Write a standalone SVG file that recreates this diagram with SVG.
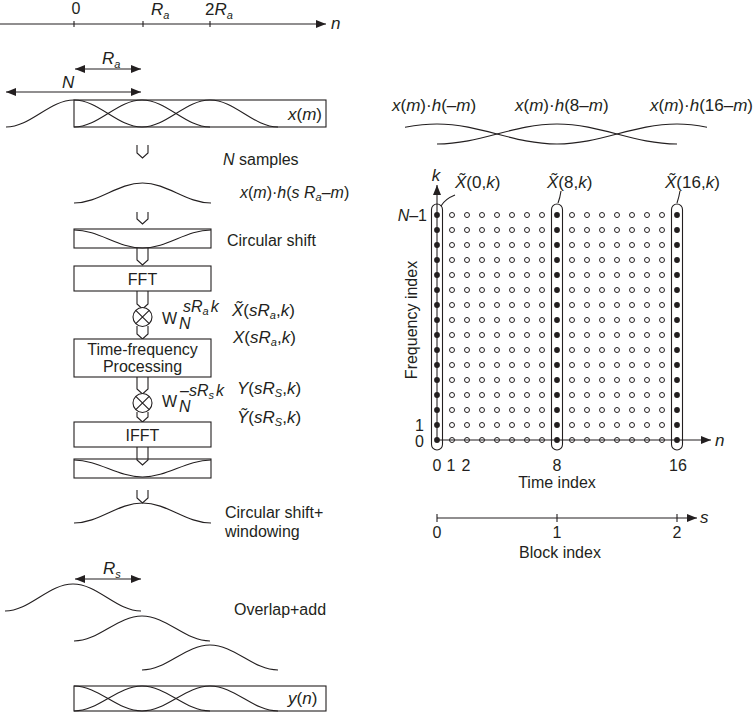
<svg xmlns="http://www.w3.org/2000/svg" xmlns:xlink="http://www.w3.org/1999/xlink" width="755" height="712" viewBox="0 0 755 712">
<style>
.ln{fill:none;stroke:#231f20;stroke-width:1.1}
.bx{fill:#fff;stroke:#231f20;stroke-width:1.1}
.t{font-family:"Liberation Sans",Arial,sans-serif;font-size:16px;fill:#231f20}
.m{font-size:17px}
.i{font-style:italic}
.sb{font-size:11px;font-style:italic}
.oc{fill:none;stroke:#231f20;stroke-width:1}
.fd{fill:#231f20}
</style>
<defs>
<marker id="ah" viewBox="0 0 10 8" refX="10" refY="4" markerWidth="10" markerHeight="8" markerUnits="userSpaceOnUse" orient="auto-start-reverse"><path d="M0,0 L10,4 L0,8 z" fill="#231f20"/></marker>
<g id="row">
<circle cx="437" cy="0" r="2.9" class="fd"/>
<circle cx="452" cy="0" r="2.5" class="oc"/><circle cx="467" cy="0" r="2.5" class="oc"/><circle cx="482" cy="0" r="2.5" class="oc"/><circle cx="497" cy="0" r="2.5" class="oc"/><circle cx="512" cy="0" r="2.5" class="oc"/><circle cx="527" cy="0" r="2.5" class="oc"/><circle cx="542" cy="0" r="2.5" class="oc"/>
<circle cx="557" cy="0" r="2.9" class="fd"/>
<circle cx="572" cy="0" r="2.5" class="oc"/><circle cx="587" cy="0" r="2.5" class="oc"/><circle cx="602" cy="0" r="2.5" class="oc"/><circle cx="617" cy="0" r="2.5" class="oc"/><circle cx="632" cy="0" r="2.5" class="oc"/><circle cx="647" cy="0" r="2.5" class="oc"/><circle cx="662" cy="0" r="2.5" class="oc"/>
<circle cx="677" cy="0" r="2.9" class="fd"/>
</g>
</defs>
<rect width="755" height="712" fill="#fff"/>

<!-- top time axis -->
<g id="time-axis">
<line class="ln" x1="0" y1="24" x2="326" y2="24" marker-end="url(#ah)"/>
<line class="ln" x1="74" y1="21" x2="74" y2="27"/>
<line class="ln" x1="143" y1="21" x2="143" y2="27"/>
<line class="ln" x1="210" y1="21" x2="210" y2="27"/>
<text class="t" x="76" y="14" text-anchor="middle">0</text>
<text class="t m" x="151" y="15"><tspan class="i">R</tspan><tspan class="sb" dy="4">a</tspan></text>
<text class="t m" x="205" y="15">2<tspan class="i">R</tspan><tspan class="sb" dy="4">a</tspan></text>
<text class="t m i" x="331" y="29">n</text>
</g>

<g id="dims">
<line class="ln" x1="75" y1="69" x2="141" y2="69" marker-start="url(#ah)" marker-end="url(#ah)"/>
<text class="t m" x="102" y="64"><tspan class="i">R</tspan><tspan class="sb" dy="4">a</tspan></text>
<line class="ln" x1="6" y1="92" x2="141" y2="92" marker-start="url(#ah)" marker-end="url(#ah)"/>
<text class="t m i" x="62" y="88">N</text>
</g>

<g id="input-signal">
<rect class="ln" x="74" y="100" width="252" height="27"/>
<path class="ln" d="M6,127 C30.8,127 49.2,100 74,100 C98.8,100 117.2,127 142,127"/>
<path class="ln" d="M74,127 C98.8,127 117.2,100 142,100 C166.8,100 185.2,127 210,127"/>
<path class="ln" d="M142,127 C166.8,127 185.2,100 210,100 C234.8,100 253.2,127 278,127"/>
<text class="t m" x="288" y="120"><tspan class="i">x</tspan>(<tspan class="i">m</tspan>)</text>
</g>

<g id="connectors">
<path class="ln" d="M137,145 V153 L142.5,158 L148,153 V145"/>
<path class="ln" d="M137,212 V219 L142.5,224 L148,219 V212"/>
<path class="ln" d="M137,248 V260 L142.5,265 L148,260 V248"/>
<path class="ln" d="M137,291 V304 L142.5,309 L148,304 V291"/>
<path class="ln" d="M137,326 V334 L142.5,339 L148,334 V326"/>
<path class="ln" d="M137,377 V389 L142.5,394 L148,389 V377"/>
<path class="ln" d="M137,412 V417 L142.5,422 L148,417 V412"/>
<path class="ln" d="M137,447 V460 L142.5,465 L148,460 V447"/>
<path class="ln" d="M137,490 V498 L142.5,503 L148,498 V490"/>
</g>

<g id="n-samples">
<text class="t" x="223" y="165"><tspan class="i">N</tspan> samples</text>
</g>

<g id="windowed">
<path class="ln" d="M74,203 C98.95,203 117.55,183 142.5,183 C167.45,183 186.05,203 211,203"/>
<text class="t" font-size="17.5" x="240" y="198"><tspan class="i">x</tspan>(<tspan class="i">m</tspan>)·<tspan class="i">h</tspan>(<tspan class="i">s</tspan> <tspan class="i">R</tspan><tspan class="sb" dy="3">a</tspan><tspan dy="-3">–</tspan><tspan class="i">m</tspan>)</text>
</g>

<g id="circ-shift">
<rect class="bx" x="74" y="229" width="137" height="19"/>
<path class="ln" d="M74,230 C98.95,230 117.55,248 142.5,248 C167.45,248 186.05,230 211,230"/>
<text class="t" x="227" y="246">Circular shift</text>
</g>

<g id="fft">
<rect class="bx" x="74" y="266" width="137" height="25"/>
<text class="t" x="142.5" y="285" text-anchor="middle">FFT</text>
</g>

<g id="mult1">
<circle class="bx" cx="142.5" cy="317" r="9.5"/>
<path class="ln" d="M135.8,310.3 L149.2,323.7 M149.2,310.3 L135.8,323.7"/>
<text class="t" x="162" y="324">W</text>
<text class="t i" x="179" y="329" font-size="12">N</text>
<text class="t i" x="183" y="312" font-size="14">sR<tspan class="sb" font-size="10" dy="3">a</tspan><tspan dy="-3" dx="2">k</tspan></text>
<text class="t m" x="232" y="316"><tspan class="i">X&#x303;</tspan>(<tspan class="i">sR</tspan><tspan class="sb" dy="3">a</tspan><tspan dy="-3">,</tspan><tspan class="i">k</tspan>)</text>
<text class="t m" x="233" y="343"><tspan class="i">X</tspan>(<tspan class="i">sR</tspan><tspan class="sb" dy="3">a</tspan><tspan dy="-3">,</tspan><tspan class="i">k</tspan>)</text>
</g>

<g id="tf-processing">
<rect class="bx" x="74" y="339" width="137" height="38"/>
<text class="t" x="142.5" y="355" text-anchor="middle">Time-frequency</text>
<text class="t" x="142.5" y="372" text-anchor="middle">Processing</text>
</g>

<g id="mult2">
<circle class="bx" cx="142.5" cy="403" r="9.5"/>
<path class="ln" d="M135.8,396.3 L149.2,409.7 M149.2,396.3 L135.8,409.7"/>
<text class="t" x="162" y="407">W</text>
<text class="t i" x="179" y="412" font-size="12">N</text>
<text class="t" x="180" y="396" font-size="14">–<tspan class="i">sR</tspan><tspan class="sb" font-size="10" dy="3">s</tspan><tspan class="i" dy="-3" dx="2">k</tspan></text>
<text class="t m" x="237" y="394"><tspan class="i">Y</tspan>(<tspan class="i">sR</tspan><tspan class="sb" dy="3">S</tspan><tspan dy="-3">,</tspan><tspan class="i">k</tspan>)</text>
<text class="t m" x="237" y="423"><tspan class="i">Y&#x303;</tspan>(<tspan class="i">sR</tspan><tspan class="sb" dy="3">S</tspan><tspan dy="-3">,</tspan><tspan class="i">k</tspan>)</text>
</g>

<g id="ifft">
<rect class="bx" x="74" y="422" width="137" height="25"/>
<text class="t" x="142.5" y="441" text-anchor="middle">IFFT</text>
</g>

<g id="circ-shift-out">
<rect class="ln" x="74" y="459" width="137" height="19"/>
<path class="ln" d="M74,460 C98.95,460 117.55,477 142.5,477 C167.45,477 186.05,460 211,460"/>
</g>

<g id="windowing">
<path class="ln" d="M74,523 C98.95,523 117.55,503 142.5,503 C167.45,503 186.05,523 211,523"/>
<text class="t" x="225" y="518">Circular shift+</text>
<text class="t" x="225" y="537">windowing</text>
</g>

<g id="overlap-add">
<line class="ln" x1="75" y1="579" x2="141" y2="579" marker-start="url(#ah)" marker-end="url(#ah)"/>
<text class="t m" x="103" y="574"><tspan class="i">R</tspan><tspan class="sb" dy="4">s</tspan></text>
<path class="ln" d="M5,611 C29.8,611 48.2,584 73,584 C97.8,584 116.2,611 141,611"/>
<path class="ln" d="M74,641 C98.8,641 117.2,616 142,616 C166.8,616 185.2,641 210,641"/>
<path class="ln" d="M142,670 C166.8,670 185.2,645 210,645 C234.8,645 253.2,670 278,670"/>
<text class="t" x="234" y="615">Overlap+add</text>
</g>

<g id="output-signal">
<rect class="ln" x="74" y="686" width="252" height="25"/>
<path class="ln" d="M74,686 C98.8,686 117.2,711 142,711"/>
<path class="ln" d="M74,711 C98.8,711 117.2,686 142,686 C166.8,686 185.2,711 210,711"/>
<path class="ln" d="M142,711 C166.8,711 185.2,686 210,686 C234.8,686 253.2,711 278,711"/>
<text class="t m" x="288" y="704"><tspan class="i">y</tspan>(<tspan class="i">n</tspan>)</text>
</g>

<!-- right side -->
<g id="analysis-windows">
<text class="t m" x="392" y="111"><tspan class="i">x</tspan>(<tspan class="i">m</tspan>)·<tspan class="i">h</tspan>(–<tspan class="i">m</tspan>)</text>
<text class="t m" x="515" y="111"><tspan class="i">x</tspan>(<tspan class="i">m</tspan>)·<tspan class="i">h</tspan>(8–<tspan class="i">m</tspan>)</text>
<text class="t m" x="650" y="111"><tspan class="i">x</tspan>(<tspan class="i">m</tspan>)·<tspan class="i">h</tspan>(16–<tspan class="i">m</tspan>)</text>
<path class="ln" d="M405,127.3 C415,125.5 426,124 437,124 C480.7,124 513.3,144 557,144"/>
<path class="ln" d="M437,144 C480.7,144 513.3,124 557,124 C600.7,124 633.3,144 677,144"/>
<path class="ln" d="M557,144 C600.7,144 633.3,124 677,124 C688,124 698,125.5 707,127.3"/>
</g>

<g id="grid">
<rect class="ln" x="431.5" y="204" width="11" height="246" rx="5.5"/>
<rect class="ln" x="551.5" y="204" width="11" height="246" rx="5.5"/>
<rect class="ln" x="671.5" y="204" width="11" height="246" rx="5.5"/>
<use xlink:href="#row" href="#row" transform="translate(0,440)"/>
<use xlink:href="#row" href="#row" transform="translate(0,425)"/>
<use xlink:href="#row" href="#row" transform="translate(0,410)"/>
<use xlink:href="#row" href="#row" transform="translate(0,395)"/>
<use xlink:href="#row" href="#row" transform="translate(0,380)"/>
<use xlink:href="#row" href="#row" transform="translate(0,365)"/>
<use xlink:href="#row" href="#row" transform="translate(0,350)"/>
<use xlink:href="#row" href="#row" transform="translate(0,335)"/>
<use xlink:href="#row" href="#row" transform="translate(0,320)"/>
<use xlink:href="#row" href="#row" transform="translate(0,305)"/>
<use xlink:href="#row" href="#row" transform="translate(0,290)"/>
<use xlink:href="#row" href="#row" transform="translate(0,275)"/>
<use xlink:href="#row" href="#row" transform="translate(0,260)"/>
<use xlink:href="#row" href="#row" transform="translate(0,245)"/>
<use xlink:href="#row" href="#row" transform="translate(0,230)"/>
<use xlink:href="#row" href="#row" transform="translate(0,215)"/>
<line class="ln" x1="437" y1="440" x2="437" y2="185" marker-end="url(#ah)"/>
<line class="ln" x1="437" y1="440" x2="711" y2="440" marker-end="url(#ah)"/>
<text class="t m i" x="436" y="181" text-anchor="middle">k</text>
<text class="t m i" x="715" y="446">n</text>
<text class="t" x="427" y="221" text-anchor="end"><tspan class="i">N</tspan>–1</text>
<text class="t" font-size="15" x="424" y="431" text-anchor="end">1</text>
<text class="t" font-size="15" x="424" y="447" text-anchor="end">0</text>
<text class="t" x="437" y="471" text-anchor="middle">0</text>
<text class="t" x="451" y="471" text-anchor="middle">1</text>
<text class="t" x="466" y="471" text-anchor="middle">2</text>
<text class="t" x="557" y="471" text-anchor="middle">8</text>
<text class="t" x="678" y="471" text-anchor="middle">16</text>
<text class="t" x="557" y="488" text-anchor="middle">Time index</text>
<text class="t" font-size="17" transform="translate(417,320) rotate(-90)" text-anchor="middle">Frequency index</text>
<path class="ln" d="M441,206 Q445,199 455,195"/>
<path class="ln" d="M558,203 Q560,198 561,191"/>
<path class="ln" d="M677,203 Q679,197 680,191"/>
<text class="t m" x="455" y="188"><tspan class="i">X&#x303;</tspan>(0,<tspan class="i">k</tspan>)</text>
<text class="t m" x="547" y="188"><tspan class="i">X&#x303;</tspan>(8,<tspan class="i">k</tspan>)</text>
<text class="t m" x="665" y="188"><tspan class="i">X&#x303;</tspan>(16,<tspan class="i">k</tspan>)</text>
</g>

<g id="block-axis">
<line class="ln" x1="437" y1="518" x2="697" y2="518" marker-end="url(#ah)"/>
<line class="ln" x1="437" y1="514" x2="437" y2="522"/>
<line class="ln" x1="557" y1="514" x2="557" y2="522"/>
<line class="ln" x1="677" y1="514" x2="677" y2="522"/>
<text class="t m i" x="700" y="523">s</text>
<text class="t" x="437" y="538" text-anchor="middle">0</text>
<text class="t" x="557" y="538" text-anchor="middle">1</text>
<text class="t" x="677" y="538" text-anchor="middle">2</text>
<text class="t" x="560" y="558" text-anchor="middle">Block index</text>
</g>
</svg>
